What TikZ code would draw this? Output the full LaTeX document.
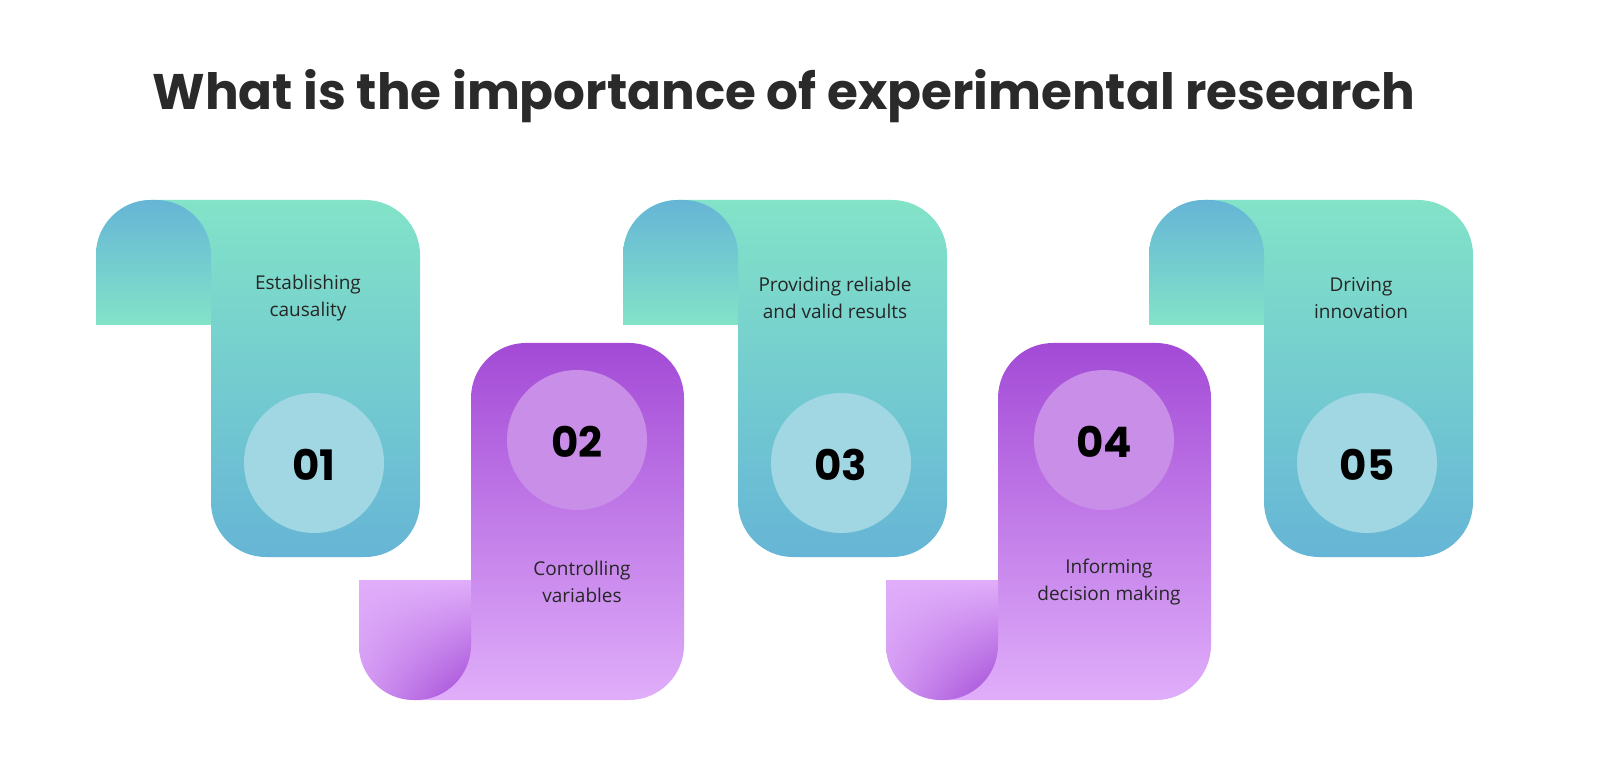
\documentclass[tikz,border=0pt]{standalone}
\usepackage{fontspec}
\usetikzlibrary{shadings}
\setmainfont{Open Sans}
\newfontfamily\pop{Poppins}
\definecolor{tl}{HTML}{82E3C8}
\definecolor{bl}{HTML}{66B5D6}
\definecolor{tc}{HTML}{A0D7E2}
\definecolor{pd}{HTML}{A34AD6}
\definecolor{pl}{HTML}{E0AEFA}
\definecolor{pc}{HTML}{C98EE7}
\definecolor{tt}{HTML}{2A2A2A}
\tikzset{
 lbl/.style={align=center,font=\fontsize{19}{27}\selectfont,text=black!85},
 num/.style={font=\pop\bfseries\fontsize{42}{42}\selectfont,text=black},
}
\begin{document}
\begin{tikzpicture}[x=1pt,y=-1pt]
\useasboundingbox (0,0) rectangle (1600,775);
\node[font=\pop\bfseries\fontsize{50}{50}\selectfont,text=tt] (title) at (784,96) {What is the importance of experimental research};
\foreach \i/\o/\t/\n in {1/0/{Establishing\\causality}/01,3/527/{Providing reliable\\and valid results}/03,5/1053/{Driving\\innovation}/05}{
 \begin{scope}[xshift=\o]
 \shade[top color=tl,bottom color=bl] (96,325) [rounded corners=55]-- (96,200) -- (420,200) -- (420,557) -- (211,557) [sharp corners]-- (211,325) -- cycle;
 \shade[top color=bl,bottom color=tl] (96,325) [rounded corners=55]-- (96,200) -- (211,200) [sharp corners]-- (211,325) -- cycle;
 \fill[tc] (314,463) circle (70);
 \node[lbl] (t\i) at (308,298) {\t};
 \node[num] (n\i) at (314,465) {\n};
 \end{scope}}
\foreach \i/\o/\t/\n in {2/0/{Controlling\\variables}/02,4/527/{Informing\\decision making}/04}{
 \begin{scope}[xshift=\o]
 \shade[top color=pd,bottom color=pl] (359,580) -- (471,580) [rounded corners=55]-- (471,343) -- (684,343) -- (684,700) -- (359,700) [sharp corners]-- cycle;
 \shade[upper left=pl,upper right=pl,lower left=pl!80!pd,lower right=pd] (359,580) [rounded corners=55]-- (359,700) -- (471,700) [sharp corners]-- (471,580) -- cycle;
 \fill[pc] (577,440) circle (70);
 \node[lbl] (t\i) at (582,582) {\t};
 \node[num] (n\i) at (577,442) {\n};
 \end{scope}}
\end{tikzpicture}
\end{document}
